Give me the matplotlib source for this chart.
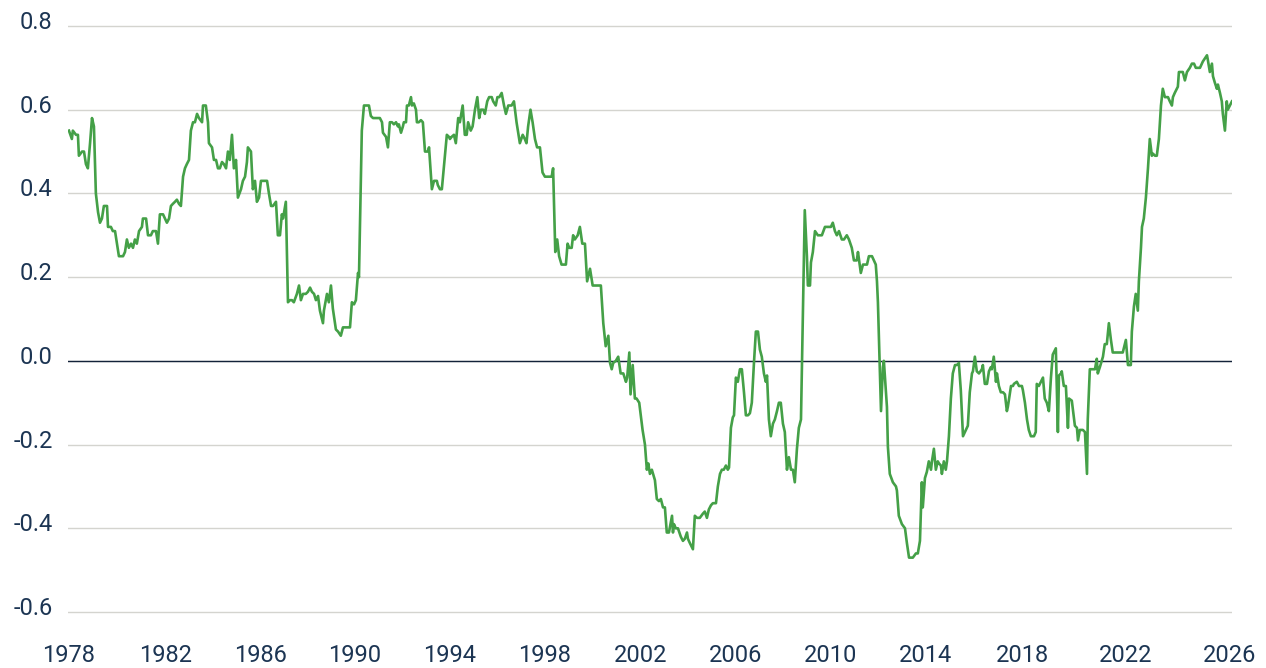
import numpy as np
import matplotlib
matplotlib.use("Agg")
import matplotlib.pyplot as plt
import matplotlib.transforms as mtransforms

plt.rcParams['font.family'] = ['Roboto', 'DejaVu Sans']

# rolling correlation (decimal years)
dates = [
    1978.00, 1978.12, 1978.16, 1978.29, 1978.37, 1978.41, 1978.54, 1978.62, 1978.70, 1978.78, 1978.87, 1978.95,
    1979.03, 1979.11, 1979.20, 1979.28, 1979.36, 1979.44, 1979.57, 1979.61, 1979.73, 1979.81, 1979.90, 1979.98,
    1980.06, 1980.23, 1980.31, 1980.39, 1980.47, 1980.56, 1980.64, 1980.72, 1980.80, 1980.89,
    1981.01, 1981.05, 1981.18, 1981.26, 1981.38, 1981.46, 1981.59, 1981.67, 1981.75, 1981.88, 1981.96,
    1982.04, 1982.13, 1982.21, 1982.29, 1982.38, 1982.46, 1982.55, 1982.63, 1982.72, 1982.80, 1982.88, 1982.97,
    1983.05, 1983.14, 1983.22, 1983.31, 1983.39, 1983.52, 1983.56, 1983.68, 1983.77, 1983.81, 1983.94,
    1984.02, 1984.11, 1984.19, 1984.27, 1984.36, 1984.44, 1984.53, 1984.61, 1984.69, 1984.78, 1984.86, 1984.95,
    1985.03, 1985.16, 1985.24, 1985.33, 1985.41, 1985.45, 1985.58, 1985.66, 1985.75, 1985.83, 1985.92,
    1986.00, 1986.09, 1986.26, 1986.34, 1986.43, 1986.51, 1986.64, 1986.72, 1986.81, 1986.89, 1986.94,
    1987.06, 1987.15, 1987.23, 1987.32, 1987.40, 1987.53, 1987.62, 1987.70, 1987.79, 1987.91,
    1988.00, 1988.09, 1988.17, 1988.26, 1988.34, 1988.43, 1988.51, 1988.64, 1988.68, 1988.81, 1988.89, 1988.98,
    1989.06, 1989.19, 1989.28, 1989.40, 1989.49, 1989.62, 1989.79, 1989.87, 1989.96,
    1990.04, 1990.13, 1990.17, 1990.29, 1990.38, 1990.51, 1990.59, 1990.67, 1990.76, 1990.93,
    1991.05, 1991.14, 1991.18, 1991.31, 1991.39, 1991.47, 1991.56, 1991.64, 1991.73, 1991.81, 1991.85, 1991.94,
    1992.02, 1992.06, 1992.15, 1992.19, 1992.27, 1992.36, 1992.40, 1992.48, 1992.57, 1992.61, 1992.69, 1992.78, 1992.86, 1992.95,
    1993.07, 1993.12, 1993.24, 1993.33, 1993.45, 1993.49, 1993.58, 1993.66, 1993.79, 1993.87, 1993.96,
    1994.00, 1994.07, 1994.17, 1994.25, 1994.35, 1994.42, 1994.54, 1994.63, 1994.71, 1994.77, 1994.88, 1994.96,
    1995.06, 1995.16, 1995.24, 1995.31, 1995.41, 1995.48, 1995.58, 1995.66, 1995.77, 1995.83, 1995.94,
    1996.01, 1996.09, 1996.19, 1996.29, 1996.37, 1996.47, 1996.61, 1996.71, 1996.82, 1996.96,
    1997.08, 1997.17, 1997.24, 1997.31, 1997.41, 1997.50, 1997.60, 1997.69, 1997.81, 1997.92,
    1998.02, 1998.16, 1998.30, 1998.36, 1998.45, 1998.53, 1998.61, 1998.71, 1998.89, 1998.96,
    1999.03, 1999.13, 1999.19, 1999.26, 1999.38, 1999.47, 1999.57, 1999.68, 1999.77, 1999.89,
    2000.00, 2000.16, 2000.34, 2000.44, 2000.54, 2000.65, 2000.72, 2000.79, 2000.85, 2000.96,
    2001.06, 2001.16, 2001.27, 2001.38, 2001.43, 2001.52, 2001.57, 2001.66, 2001.75, 2001.82, 2001.93,
    2002.07, 2002.17, 2002.25, 2002.31, 2002.38, 2002.46, 2002.59, 2002.67, 2002.76, 2002.84, 2002.93,
    2003.01, 2003.09, 2003.18, 2003.31, 2003.35, 2003.39, 2003.47, 2003.56, 2003.68, 2003.77, 2003.85, 2003.94, 2003.98,
    2004.06, 2004.19, 2004.27, 2004.36, 2004.48, 2004.61, 2004.69, 2004.78, 2004.86, 2004.95,
    2005.03, 2005.16, 2005.24, 2005.33, 2005.41, 2005.49, 2005.58, 2005.66, 2005.71, 2005.79, 2005.87, 2005.92,
    2006.00, 2006.08, 2006.17, 2006.25, 2006.34, 2006.42, 2006.51, 2006.59, 2006.67, 2006.76, 2006.84, 2006.93,
    2007.01, 2007.09, 2007.18, 2007.26, 2007.31, 2007.39, 2007.47, 2007.56, 2007.64, 2007.73, 2007.81, 2007.89, 2007.98,
    2008.06, 2008.15, 2008.23, 2008.32, 2008.40, 2008.48, 2008.57, 2008.65, 2008.74, 2008.90, 2008.99,
    2009.03, 2009.12, 2009.16, 2009.24, 2009.33, 2009.45, 2009.54, 2009.62, 2009.75, 2009.87,
    2010.00, 2010.08, 2010.17, 2010.25, 2010.34, 2010.46, 2010.55, 2010.67, 2010.76, 2010.88, 2010.97,
    2011.09, 2011.14, 2011.26, 2011.35, 2011.52, 2011.60, 2011.73, 2011.81, 2011.89, 2011.94, 2011.98,
    2012.11, 2012.19, 2012.23, 2012.36, 2012.40, 2012.48, 2012.61, 2012.74, 2012.78, 2012.86, 2012.99,
    2013.12, 2013.20, 2013.29, 2013.45, 2013.58, 2013.66, 2013.75, 2013.83, 2013.87, 2013.96,
    2014.04, 2014.12, 2014.21, 2014.25, 2014.33, 2014.41, 2014.49, 2014.54, 2014.62, 2014.66, 2014.74, 2014.82, 2014.87, 2014.95,
    2015.03, 2015.11, 2015.20, 2015.28, 2015.36, 2015.44, 2015.53, 2015.61, 2015.73, 2015.81, 2015.90, 2015.94,
    2016.02, 2016.10, 2016.19, 2016.31, 2016.35, 2016.43, 2016.52, 2016.60, 2016.68, 2016.72, 2016.80, 2016.89, 2016.93,
    2017.01, 2017.09, 2017.18, 2017.26, 2017.34, 2017.38, 2017.51, 2017.59, 2017.63, 2017.75, 2017.84, 2017.96,
    2018.00, 2018.08, 2018.16, 2018.23, 2018.31, 2018.43, 2018.50, 2018.54, 2018.62, 2018.70, 2018.78, 2018.85, 2018.93,
    2019.01, 2019.09, 2019.16, 2019.20, 2019.28, 2019.36, 2019.40, 2019.48, 2019.51, 2019.59, 2019.67, 2019.75, 2019.79, 2019.90, 2019.94,
    2020.02, 2020.10, 2020.14, 2020.21, 2020.33, 2020.41, 2020.49, 2020.52, 2020.60, 2020.72, 2020.80, 2020.87, 2020.91, 2020.99,
    2021.11, 2021.18, 2021.26, 2021.34, 2021.42, 2021.49, 2021.69, 2021.88,
    2022.00, 2022.08, 2022.19, 2022.23, 2022.31, 2022.38, 2022.46, 2022.50, 2022.58, 2022.62, 2022.69, 2022.77, 2022.85, 2022.92,
    2023.00, 2023.04, 2023.12, 2023.19, 2023.27, 2023.35, 2023.42, 2023.50, 2023.62, 2023.69, 2023.77, 2023.81, 2023.88,
    2024.00, 2024.04, 2024.15, 2024.19, 2024.27, 2024.35, 2024.46, 2024.54, 2024.62, 2024.69, 2024.85, 2024.96,
    2025.12, 2025.15, 2025.23, 2025.31, 2025.35, 2025.42, 2025.50, 2025.54, 2025.62, 2025.69, 2025.73, 2025.81, 2025.88, 2025.92,
    2026.00, 2026.08,
]

corr = [
    0.55, 0.53, 0.55, 0.54, 0.54, 0.49, 0.50, 0.50, 0.47, 0.46, 0.52, 0.58,
    0.56, 0.40, 0.355, 0.33, 0.34, 0.37, 0.37, 0.32, 0.32, 0.31, 0.31, 0.28,
    0.25, 0.25, 0.26, 0.29, 0.27, 0.28, 0.27, 0.29, 0.28, 0.31,
    0.32, 0.34, 0.34, 0.30, 0.30, 0.31, 0.31, 0.28, 0.35, 0.35, 0.34,
    0.33, 0.34, 0.37, 0.375, 0.38, 0.385, 0.375, 0.37, 0.44, 0.46, 0.47, 0.48,
    0.55, 0.57, 0.57, 0.59, 0.58, 0.57, 0.61, 0.61, 0.57, 0.52, 0.51,
    0.48, 0.48, 0.46, 0.46, 0.475, 0.47, 0.46, 0.50, 0.48, 0.54, 0.46, 0.48,
    0.39, 0.41, 0.43, 0.44, 0.475, 0.51, 0.50, 0.41, 0.43, 0.38, 0.39,
    0.43, 0.43, 0.43, 0.40, 0.37, 0.37, 0.38, 0.30, 0.30, 0.35, 0.34,
    0.38, 0.14, 0.145, 0.145, 0.14, 0.16, 0.18, 0.145, 0.16, 0.16,
    0.165, 0.175, 0.165, 0.16, 0.145, 0.155, 0.12, 0.09, 0.12, 0.16, 0.14, 0.18,
    0.125, 0.075, 0.07, 0.06, 0.08, 0.08, 0.08, 0.14, 0.135,
    0.145, 0.21, 0.20, 0.55, 0.61, 0.61, 0.61, 0.585, 0.58, 0.58,
    0.58, 0.57, 0.545, 0.535, 0.51, 0.57, 0.57, 0.565, 0.57, 0.56, 0.565, 0.545,
    0.56, 0.57, 0.57, 0.61, 0.61, 0.63, 0.61, 0.615, 0.60, 0.57, 0.57, 0.575, 0.57, 0.50,
    0.50, 0.51, 0.41, 0.43, 0.43, 0.42, 0.41, 0.41, 0.49, 0.54, 0.535,
    0.53, 0.535, 0.54, 0.52, 0.58, 0.57, 0.61, 0.54, 0.54, 0.57, 0.55, 0.56,
    0.60, 0.63, 0.58, 0.60, 0.60, 0.59, 0.62, 0.63, 0.63, 0.62, 0.61,
    0.63, 0.63, 0.64, 0.61, 0.59, 0.61, 0.61, 0.62, 0.57, 0.52,
    0.54, 0.53, 0.52, 0.56, 0.60, 0.57, 0.53, 0.51, 0.51, 0.45,
    0.44, 0.44, 0.44, 0.46, 0.26, 0.29, 0.25, 0.23, 0.23, 0.28,
    0.27, 0.27, 0.30, 0.29, 0.30, 0.32, 0.28, 0.28, 0.19, 0.22,
    0.18, 0.18, 0.18, 0.09, 0.035, 0.06, -0.005, -0.02, -0.005, 0.0,
    0.01, -0.03, -0.03, -0.05, -0.04, 0.02, -0.08, -0.01, -0.09, -0.09, -0.10,
    -0.165, -0.20, -0.26, -0.245, -0.27, -0.26, -0.285, -0.33, -0.335, -0.33, -0.35,
    -0.35, -0.41, -0.41, -0.37, -0.41, -0.39, -0.40, -0.40, -0.42, -0.43, -0.425, -0.41, -0.425,
    -0.435, -0.45, -0.37, -0.375, -0.375, -0.365, -0.36, -0.375, -0.355, -0.345,
    -0.34, -0.34, -0.30, -0.27, -0.26, -0.26, -0.25, -0.26, -0.255, -0.16, -0.135, -0.13,
    -0.04, -0.05, -0.02, -0.02, -0.075, -0.13, -0.13, -0.125, -0.10, -0.005, 0.07, 0.07,
    0.027, 0.01, -0.03, -0.05, -0.035, -0.14, -0.18, -0.15, -0.14, -0.12, -0.10, -0.10, -0.15,
    -0.17, -0.26, -0.23, -0.26, -0.26, -0.29, -0.21, -0.16, -0.14, 0.36, 0.25,
    0.18, 0.18, 0.235, 0.26, 0.31, 0.30, 0.30, 0.30, 0.32, 0.32,
    0.32, 0.33, 0.31, 0.30, 0.31, 0.29, 0.29, 0.30, 0.29, 0.27, 0.24,
    0.24, 0.26, 0.21, 0.23, 0.23, 0.25, 0.25, 0.24, 0.23, 0.19, 0.14,
    -0.12, -0.015, 0.0, -0.11, -0.205, -0.27, -0.29, -0.30, -0.31, -0.37, -0.39,
    -0.40, -0.435, -0.47, -0.47, -0.46, -0.46, -0.43, -0.29, -0.35, -0.28,
    -0.265, -0.24, -0.26, -0.24, -0.21, -0.26, -0.24, -0.245, -0.25, -0.27, -0.24, -0.26, -0.24, -0.18,
    -0.09, -0.03, -0.01, -0.01, -0.005, -0.07, -0.18, -0.17, -0.155, -0.075, -0.03, -0.025,
    0.01, -0.025, -0.03, -0.02, -0.01, -0.055, -0.055, -0.025, -0.015, -0.02, 0.01, -0.05, -0.03,
    -0.06, -0.075, -0.075, -0.08, -0.12, -0.11, -0.06, -0.06, -0.055, -0.05, -0.06, -0.06,
    -0.07, -0.10, -0.14, -0.165, -0.18, -0.18, -0.17, -0.055, -0.06, -0.05, -0.04, -0.09, -0.10,
    -0.12, -0.04, 0.015, 0.02, 0.03, -0.17, -0.035, -0.03, -0.025, -0.06, -0.06, -0.16, -0.09, -0.095, -0.115,
    -0.155, -0.16, -0.19, -0.165, -0.165, -0.17, -0.27, -0.14, -0.02, -0.02, -0.02, 0.005, -0.03, -0.015,
    0.01, 0.04, 0.04, 0.09, 0.05, 0.02, 0.02, 0.02,
    0.05, -0.01, -0.01, 0.07, 0.13, 0.16, 0.12, 0.19, 0.27, 0.32, 0.34, 0.39, 0.46, 0.53,
    0.49, 0.495, 0.49, 0.49, 0.53, 0.61, 0.65, 0.63, 0.63, 0.62, 0.61, 0.63, 0.64,
    0.655, 0.69, 0.69, 0.69, 0.67, 0.69, 0.70, 0.71, 0.71, 0.70, 0.70, 0.715,
    0.73, 0.72, 0.69, 0.71, 0.68, 0.665, 0.65, 0.66, 0.64, 0.62, 0.59, 0.55, 0.62, 0.60,
    0.61, 0.62,
]

year_ticks = list(range(1978, 2027, 4))
y_ticks = [-0.6, -0.4, -0.2, 0.0, 0.2, 0.4, 0.6, 0.8]

# the source axis is not quite linear in time: relative spacing of its year labels
tick_spacing = [0, 97, 192, 286, 381, 475.5, 572, 667, 762, 857, 954, 1057, 1161]

text_col = '#1c3553'
grid_col = '#d4d4cf'
line_col = '#44a047'

# piecewise-linear time axis through the label anchors (extended by a year each side)
anchor_years = np.array([1974] + year_ticks + [2030], dtype=float)
anchor_pos = np.array([-97] + tick_spacing + [1161 + 104], dtype=float)


def to_pos(v):
    return np.interp(v, anchor_years, anchor_pos)


def to_year(p):
    return np.interp(p, anchor_pos, anchor_years)


fig = plt.figure(figsize=(12.66, 6.68), dpi=100)
ax = fig.add_axes([0.0537, 0.0775, 0.9194, 0.8899])
ax.set_xscale('function', functions=(to_pos, to_year))

ax.plot(dates, corr, color=line_col, linewidth=1.9, zorder=3)
ax.axhline(0, color='#13233a', linewidth=1.0, zorder=2)

ax.set_xlim(1977.96, 2026.08)
ax.set_ylim(-0.61, 0.81)
ax.set_xticks(year_ticks)
ax.set_xticklabels([str(y) for y in year_ticks])
ax.xaxis.set_minor_locator(matplotlib.ticker.NullLocator())
ax.set_yticks(y_ticks)
ax.set_yticklabels([f'{v:.1f}' for v in y_ticks])

ax.grid(axis='y', color=grid_col, linewidth=1.0, zorder=1)
ax.grid(axis='x', visible=False)
for s in ax.spines.values():
    s.set_visible(False)

ax.tick_params(axis='both', length=0, labelsize=17, labelcolor=text_col)
ax.tick_params(axis='x', pad=20)
ax.tick_params(axis='y', pad=11)

# nudge y labels up a bit, as in the original
offset = mtransforms.ScaledTranslation(0, 6 / 100, fig.dpi_scale_trans)
for lab in ax.get_yticklabels():
    lab.set_transform(lab.get_transform() + offset)

fig.savefig('out.png', dpi=100)
